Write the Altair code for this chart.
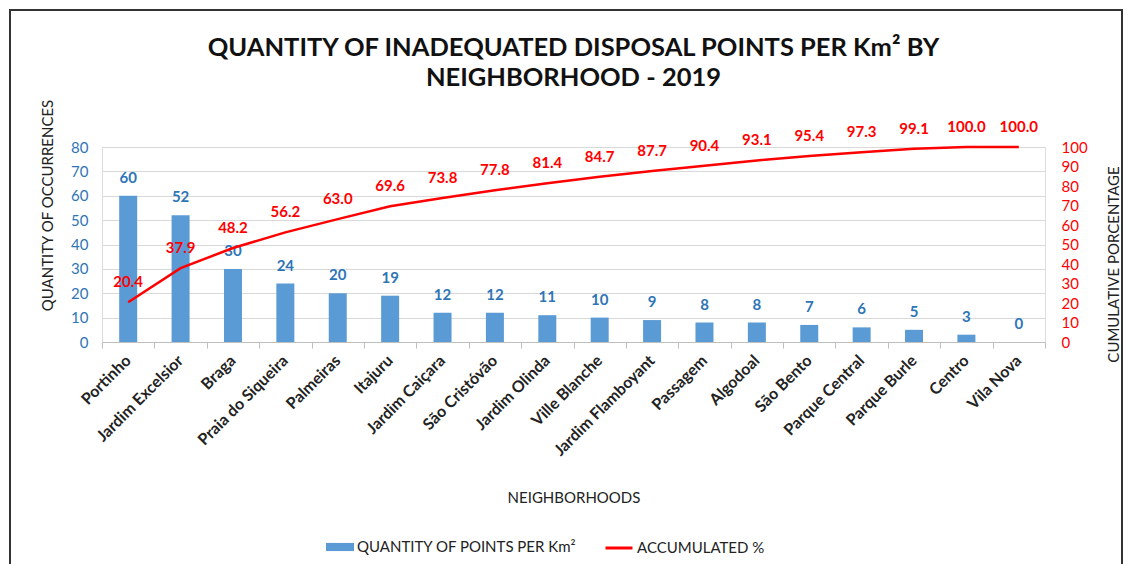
import altair as alt
import pandas as pd

neighborhoods = ["Portinho", "Jardim Excelsior", "Braga", "Praia do Siqueira", "Palmeiras",
                 "Itajuru", "Jardim Caiçara", "São Cristóvão", "Jardim Olinda", "Ville Blanche",
                 "Jardim Flamboyant", "Passagem", "Algodoal", "São Bento", "Parque Central",
                 "Parque Burle", "Centro", "Vila Nova"]
points = [60, 52, 30, 24, 20, 19, 12, 12, 11, 10, 9, 8, 8, 7, 6, 5, 3, 0]
accumulated = [20.4, 37.9, 48.2, 56.2, 63.0, 69.6, 73.8, 77.8, 81.4, 84.7, 87.7, 90.4,
               93.1, 95.4, 97.3, 99.1, 100.0, 100.0]
left_ticks = [0, 10, 20, 30, 40, 50, 60, 70, 80]
right_ticks = [0, 10, 20, 30, 40, 50, 60, 70, 80, 90, 100]

BAR_NAME = "QUANTITY OF POINTS PER Km²"
LINE_NAME = "ACCUMULATED %"
FONT = "Lato"

df = pd.DataFrame({"Neighborhood": neighborhoods, "Points": points, "Accum": accumulated})
df["BarSeries"] = BAR_NAME
df["LineSeries"] = LINE_NAME

W, H = 943, 195

x_axis = alt.Axis(title="NEIGHBORHOODS", labelAngle=-45, labelFont=FONT,
                  labelFontSize=16, labelColor="#222222", labelFontWeight="bold",
                  tickBand="extent", tickColor="#BFBFBF", tickSize=6, labelOffset=-6,
                  domainColor="#BFBFBF", grid=False, labelPadding=4,
                  titleFont=FONT, titleFontSize=15, titleFontWeight="normal",
                  titleColor="#222222", titleY=155, titleBaseline="middle")
x_enc = alt.X("Neighborhood:N", sort=neighborhoods,
              scale=alt.Scale(paddingInner=0, paddingOuter=0), axis=x_axis)

left_axis = alt.Axis(title="QUANTITY OF OCCURRENCES", values=left_ticks,
                     labelColor="#2E75B6", labelFont=FONT, labelFontSize=15,
                     labelPadding=14, domain=False, ticks=False, labelOverlap=False,
                     grid=True, gridColor="#D9D9D9", titleFont=FONT, titleFontSize=15,
                     titleFontWeight="normal", titleColor="#222222",
                     titleAngle=270, titleX=-55, titleY=58,
                     titleAlign="center", titleBaseline="middle")
right_axis = alt.Axis(orient="right", title="CUMULATIVE PORCENTAGE",
                      values=right_ticks, labelColor="#FF0000",
                      labelFont=FONT, labelFontSize=15, labelPadding=16,
                      domain=False, ticks=False, grid=False, labelOverlap=False,
                      titleFont=FONT, titleFontSize=15, titleFontWeight="normal",
                      titleColor="#222222", titleAngle=270, titleX=68, titleY=117,
                      titleAlign="center", titleBaseline="middle")

base = alt.Chart(df)

bars = base.mark_bar(size=18).encode(
    x=x_enc,
    y=alt.Y("Points:Q", scale=alt.Scale(domain=[0, 80]), axis=left_axis),
    fill=alt.Fill("BarSeries:N", scale=alt.Scale(domain=[BAR_NAME], range=["#5B9BD5"]),
                  legend=alt.Legend(orient="none", legendX=224, legendY=386, title=None,
                                    symbolType="M-1,-0.29H1V0.29H-1Z", symbolSize=784,
                                    symbolStrokeWidth=0, labelFont=FONT, labelLimit=0,
                                    labelFontSize=15, labelColor="#222222",
                                    labelOffset=3)),
)

bar_text = base.mark_text(dy=-18, font=FONT, fontSize=15, fontWeight="bold",
                          color="#2E75B6").encode(
    x=x_enc,
    y=alt.Y("Points:Q", scale=alt.Scale(domain=[0, 80]), axis=left_axis),
    text=alt.Text("Points:Q", format="d"),
)

line = base.mark_line(strokeWidth=2.5).encode(
    x=x_enc,
    y=alt.Y("Accum:Q", scale=alt.Scale(domain=[0, 100]), axis=right_axis),
    stroke=alt.Stroke("LineSeries:N", scale=alt.Scale(domain=[LINE_NAME], range=["#FF0000"]),
                      legend=alt.Legend(orient="none", legendX=502, legendY=386,
                                        title=None, symbolType="stroke",
                                        symbolSize=729, symbolStrokeWidth=3,
                                        labelFont=FONT, labelFontSize=15, labelLimit=0,
                                        labelColor="#222222", labelOffset=3)),
)

line_text = base.mark_text(dy=-20, font=FONT, fontSize=15, fontWeight="bold",
                           color="#FF0000").encode(
    x=x_enc,
    y=alt.Y("Accum:Q", scale=alt.Scale(domain=[0, 100]), axis=right_axis),
    text=alt.Text("Accum:Q", format=".1f"),
)

frame = alt.Chart(pd.DataFrame({"a": [0]})).mark_rect(
    fill=None, stroke="#333333", strokeWidth=2, clip=False
).encode(x=alt.value(-92), x2=alt.value(W + 77), y=alt.value(-137), y2=alt.value(H + 224))

chart = alt.layer(
    alt.layer(bars, bar_text),
    alt.layer(line, line_text),
    frame,
).resolve_scale(y="independent", fill="independent", stroke="independent").properties(
    width=W, height=H,
    title=alt.TitleParams(
        text=["QUANTITY OF INADEQUATED DISPOSAL POINTS PER Km² BY", "NEIGHBORHOOD - 2019"],
        font=FONT, fontSize=25.5, fontWeight="bold", color="#111111",
        anchor="middle", offset=0, dy=82, lineHeight=30),
    padding={"left": 94, "top": 139, "right": 78, "bottom": 222},
    autosize=alt.AutoSizeParams(type="none"),
).configure_view(stroke=None).configure(background="white")

chart.save("out.html", embed_options={"renderer": "svg", "actions": False})
